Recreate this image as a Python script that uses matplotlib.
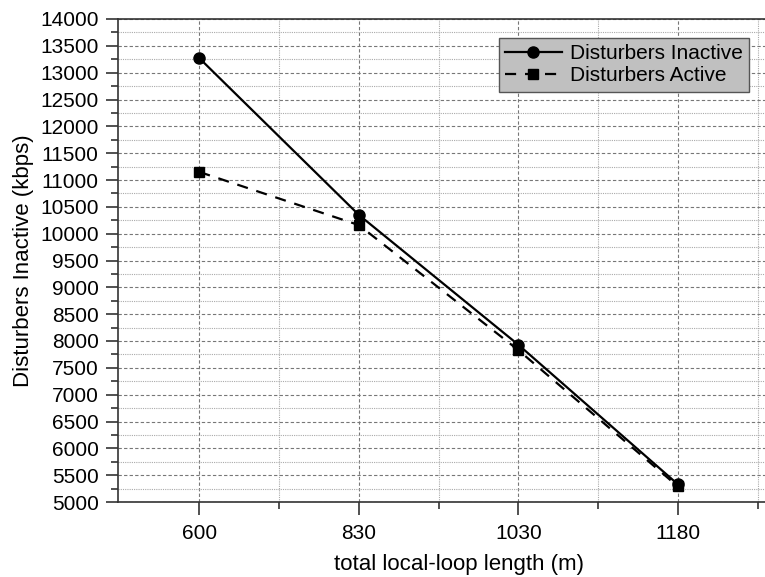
import matplotlib
matplotlib.use('Agg')
import matplotlib.pyplot as plt
from matplotlib.ticker import MultipleLocator

plt.rcParams['font.family'] = ['Liberation Sans', 'DejaVu Sans']

# data
lengths = ['600', '830', '1030', '1180']
inactive = [13270, 10350, 7930, 5330]
active = [11150, 10160, 7830, 5290]

W, H = 765, 577
fig = plt.figure(figsize=(W / 100, H / 100), dpi=100)
# axes runs past the right edge of the picture, as in the reference
ax = fig.add_axes([118 / W, 1 - 502 / H, (800 - 118) / W, (502 - 19) / H])

x = list(range(len(lengths)))
ax.plot(x, inactive, color='black', ls='-', lw=1.6, marker='o', ms=8,
        label='Disturbers Inactive', zorder=4)
ax.plot(x, active, color='black', ls=(0, (5, 4)), lw=1.6, marker='s', ms=7,
        label='Disturbers Active', zorder=3)

ax.set_xlim(-0.51, -0.51 + (800 - 118) / 159.5)
ax.set_ylim(5000, 14000)
ax.set_xticks(x)
ax.set_xticklabels(lengths)
ax.set_xticks([0.5, 1.5, 2.5, 3.5], minor=True)
ax.yaxis.set_major_locator(MultipleLocator(500))
ax.yaxis.set_minor_locator(MultipleLocator(250))

ax.grid(which='major', color='#777777', ls=(0, (3, 2)), lw=0.8)
ax.grid(which='minor', color='#aaaaaa', ls=(0, (1, 1)), lw=0.8)
ax.set_axisbelow(True)

ax.tick_params(which='major', direction='out', length=9, width=1.2, labelsize=15,
               colors='#333333', labelcolor='black', pad=5)
ax.tick_params(which='minor', direction='out', length=5, width=1.2, colors='#333333')
ax.tick_params(axis='x', which='major', pad=7)
for s in ax.spines.values():
    s.set_linewidth(1.2)
    s.set_color('#333333')

ax.set_xlabel('total local-loop length (m)', fontsize=16, labelpad=8)
ax.set_ylabel('Disturbers Inactive (kbps)', fontsize=16, labelpad=4)

leg = ax.legend(loc='upper right', bbox_to_anchor=(749 / W, 1 - 38 / H),
                bbox_transform=fig.transFigure, borderaxespad=0,
                fontsize=15, fancybox=False, framealpha=1,
                facecolor='#c0c0c0', edgecolor='#555555',
                handlelength=2.7, handletextpad=0.4, labelspacing=0.15,
                borderpad=0.3)
leg.get_frame().set_linewidth(1.0)

fig.savefig('out.png', dpi=100)
